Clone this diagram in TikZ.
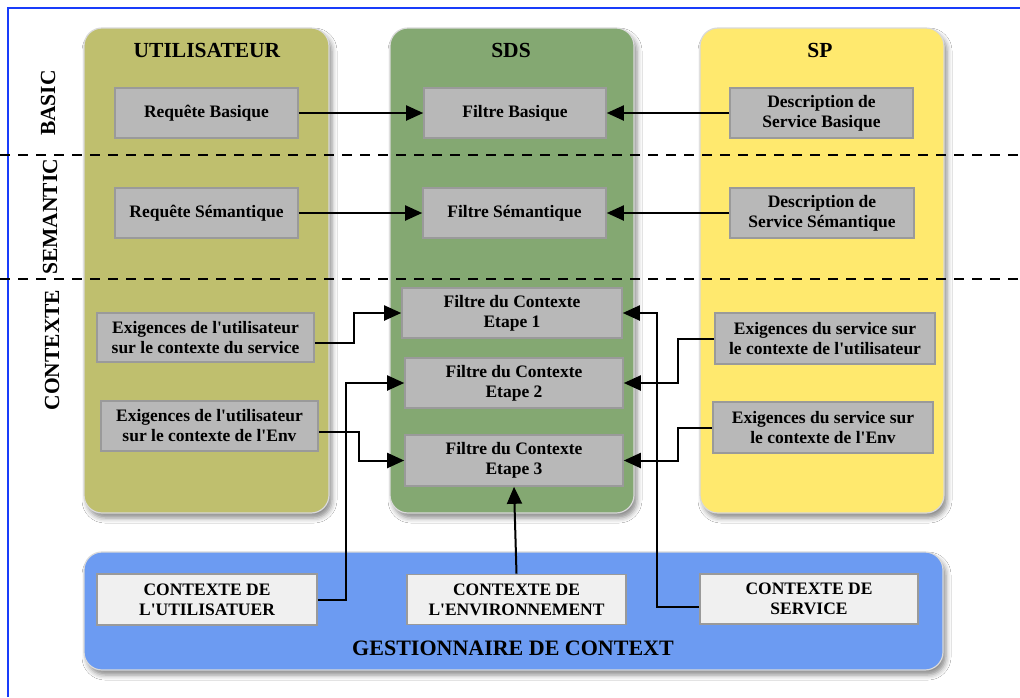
\documentclass[tikz,border=0pt]{standalone}
\usepackage{fontspec}
\setmainfont{Liberation Serif}
\usetikzlibrary{arrows.meta,shadows.blur}
\newcommand\apos{\textquotesingle}
\definecolor{cololive}{RGB}{191,191,110}
\definecolor{colgreen}{RGB}{132,168,114}
\definecolor{colyellow}{RGB}{255,233,110}
\definecolor{colblue}{RGB}{108,155,242}
\definecolor{boxgray}{RGB}{184,184,184}
\definecolor{boxedge}{RGB}{154,154,154}
\definecolor{lightbox}{RGB}{240,240,240}
\definecolor{frameblue}{RGB}{25,60,250}
\tikzset{
  colpanel/.style={rounded corners=18pt, draw=black!15, line width=1.2pt,
    blur shadow={shadow xshift=3pt, shadow yshift=-5pt, shadow blur radius=5pt, shadow opacity=45}},
  gbox/.style={draw=boxedge, line width=1.6pt, fill=boxgray, align=center, inner sep=0pt,
    font=\fontsize{17.5}{20}\selectfont\bfseries},
  lbox/.style={gbox, fill=lightbox},
  coltitle/.style={font=\fontsize{21.5}{24}\selectfont\bfseries},
  sidelabel/.style={rotate=90, font=\fontsize{21.5}{24}\selectfont\bfseries},
  arr/.style={line width=2pt, -{Triangle[length=17pt,width=15pt,fill=black]}},
  sep/.style={line width=2pt, dash pattern=on 10pt off 8pt}
}
\begin{document}
\begin{tikzpicture}[x=1pt,y=-1pt]
\useasboundingbox (0,0) rectangle (1020,697);
\fill[white] (0,0) rectangle (1020,697);
% frame
\draw[frameblue, line width=2pt] (8,697) -- (8,8) -- (1020,8);
% panels
\path[colpanel, fill=cololive] (84,28) rectangle (329,513);
\path[colpanel, fill=colgreen] (390,28) rectangle (634,513);
\path[colpanel, fill=colyellow] (700,28) rectangle (944,513);
\path[colpanel, fill=colblue] (84,552) rectangle (943,670);
% titles
\node[coltitle] (tu) at (207,50) {UTILISATEUR};
\node[coltitle] (ts) at (511,50) {SDS};
\node[coltitle] (tp) at (820,50) {SP};
\node[font=\fontsize{22}{24}\selectfont\bfseries] (tg) at (513,648) {GESTIONNAIRE DE CONTEXT};
% separators
\draw[sep] (0,155) -- (1020,155);
\draw[sep] (0,279) -- (1020,279);
% side labels
\node[sidelabel] (lb) at (48,103) {BASIC};
\node[sidelabel] (ls) at (50,217) {SEMANTIC};
\node[sidelabel] (lc) at (52,350) {CONTEXTE};
% boxes
\node[gbox, minimum width=183pt, minimum height=50pt] (rb) at (206.5,113) {Requête Basique};
\node[gbox, minimum width=182pt, minimum height=50pt] (fb) at (515,113) {Filtre Basique};
\node[gbox, minimum width=183pt, minimum height=50pt] (db) at (821.5,113) {Description de\\Service Basique};
\node[gbox, minimum width=183pt, minimum height=50pt] (rs) at (206.5,213) {Requête Sémantique};
\node[gbox, minimum width=183pt, minimum height=50pt] (fs) at (514.5,213) {Filtre Sémantique};
\node[gbox, minimum width=184pt, minimum height=50pt] (ds) at (822,213) {Description de\\Service Sémantique};
\node[gbox, minimum width=220pt, minimum height=50pt] (e1) at (512,313) {Filtre du Contexte\\Etape 1};
\node[gbox, minimum width=218pt, minimum height=50pt] (e2) at (514,383) {Filtre du Contexte\\Etape 2};
\node[gbox, minimum width=218pt, minimum height=51pt] (e3) at (514,460.5) {Filtre du Contexte\\Etape 3};
\node[gbox, minimum width=217pt, minimum height=49pt] (uu) at (205.5,337.5) {Exigences de l\apos utilisateur\\sur le contexte du service};
\node[gbox, minimum width=217pt, minimum height=50pt] (ue) at (209.5,426) {Exigences de l\apos utilisateur\\sur le contexte de l\apos Env};
\node[gbox, minimum width=220pt, minimum height=51pt] (su) at (825,338.5) {Exigences du service sur\\le contexte de l\apos utilisateur};
\node[gbox, minimum width=220pt, minimum height=51pt] (se) at (823,427.5) {Exigences du service sur\\le contexte de l\apos Env};
\node[lbox, minimum width=220pt, minimum height=51pt] (cu) at (207,599.5) {CONTEXTE DE\\L\apos UTILISATUER};
\node[lbox, minimum width=219pt, minimum height=50pt] (ce) at (516.5,599.5) {CONTEXTE DE\\L\apos ENVIRONNEMENT};
\node[lbox, minimum width=218pt, minimum height=50pt] (cs) at (809,599) {CONTEXTE DE\\SERVICE};
% connectors
\draw[arr] (rb.east) -- (fb.west);
\draw[arr] (db.west) -- (fb.east);
\draw[arr] (rs.east) -- (fs.west);
\draw[arr] (ds.west) -- (fs.east);
\draw[arr] ([yshift=-5.5pt]uu.east) -- (354,343) |- (e1.west);
\draw[arr] ([yshift=-6pt]ue.east) -- (359,432) |- (e3.west);
\draw[arr] (cu.east) -- (346,599.5) |- (e2.west);
\draw[arr] (ce.north) -- (e3.south);
\draw[arr] ([yshift=-8pt]cs.west) -- (657,607) |- (e1.east);
\draw[arr] (su.west) -- (678,338.5) |- (e2.east);
\draw[arr] (se.west) -- (678,427.5) |- (e3.east);
\end{tikzpicture}
\end{document}
